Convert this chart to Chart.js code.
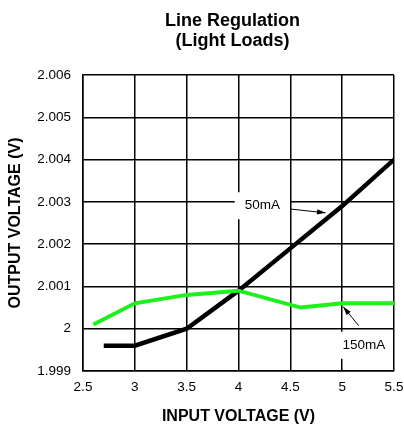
<!DOCTYPE html>
<html>
<head>
<meta charset="utf-8">
<script src="https://cdn.jsdelivr.net/npm/chart.js@4/dist/chart.umd.min.js"></script>
<style>
  html, body { margin: 0; padding: 0; background: #fff; }
  #wrap { width: 404px; height: 429px; }
</style>
</head>
<body>
<div id="wrap"><canvas id="lineChart" width="404" height="429"></canvas></div>
<script>
var xTicks = [2.5, 3, 3.5, 4, 4.5, 5, 5.5];
var yTicks = [1.999, 2, 2.001, 2.002, 2.003, 2.004, 2.005, 2.006];

var inputV50 = [2.7, 3, 3.5, 4, 4.5, 5, 5.5];
var outV50 = [1.9996, 1.9996, 2.0000, 2.0009, 2.0019, 2.0029, 2.0040];

var inputV150 = [2.6, 3, 3.5, 4, 4.6, 5, 5.5];
var outV150 = [2.0001, 2.0006, 2.0008, 2.0009, 2.0005, 2.0006, 2.0006];

var titleLines = ['Line Regulation', '(Light Loads)'];

var FONT = '"Liberation Sans", Arial, sans-serif';

function toPoints(xs, ys) {
    return xs.map(function (x, i) { return { x: x, y: ys[i] }; });
}

// callouts, in data units
var callouts = [
    { text: '50mA', x: 4.23, y: 2.00292, pad: 10, from: [4.5, 2.00283], to: [4.84, 2.00274] },
    { text: '150mA', x: 5.21, y: 1.99962, pad: 3, from: [5.16, 2.00007], to: [5.01, 2.00052] },
];

var extras = {
    id: 'extras',
    afterDraw: function (chart) {
        var ctx = chart.ctx;
        var xs = chart.scales.x, ys = chart.scales.y;
        var area = chart.chartArea;
        ctx.save();
        // title
        ctx.fillStyle = '#000';
        ctx.font = 'bold 18px ' + FONT;
        ctx.textAlign = 'center';
        ctx.textBaseline = 'alphabetic';
        var cx = (area.left + area.right) / 2 - 6;
        ctx.fillText(titleLines[0], cx, 26);
        ctx.fillText(titleLines[1], cx, 46);

        ctx.font = '13.5px ' + FONT;
        ctx.textBaseline = 'middle';
        callouts.forEach(function (c) {
            var px = xs.getPixelForValue(c.x), py = ys.getPixelForValue(c.y);
            var w = ctx.measureText(c.text).width;
            ctx.fillStyle = '#fff';
            ctx.fillRect(px - w / 2 - c.pad, py - 13, w + 2 * c.pad, 27);
            ctx.fillStyle = '#000';
            ctx.fillText(c.text, px, py);
            var x1 = xs.getPixelForValue(c.from[0]), y1 = ys.getPixelForValue(c.from[1]);
            var x2 = xs.getPixelForValue(c.to[0]), y2 = ys.getPixelForValue(c.to[1]);
            ctx.strokeStyle = '#000';
            ctx.lineWidth = 1;
            ctx.beginPath();
            ctx.moveTo(x1, y1);
            ctx.lineTo(x2, y2);
            ctx.stroke();
            var a = Math.atan2(y2 - y1, x2 - x1);
            ctx.beginPath();
            ctx.moveTo(x2, y2);
            ctx.lineTo(x2 - 9 * Math.cos(a - 0.3), y2 - 9 * Math.sin(a - 0.3));
            ctx.lineTo(x2 - 9 * Math.cos(a + 0.3), y2 - 9 * Math.sin(a + 0.3));
            ctx.closePath();
            ctx.fill();
        });
        ctx.restore();
    }
};

var ctx = document.getElementById('lineChart').getContext('2d');
var lineChart = new Chart(ctx, {
    type: 'line',
    data: {
        datasets: [{
            label: '150mA',
            data: toPoints(inputV150, outV150),
            borderColor: 'rgb(30,240,30)',
            borderWidth: 4,
            pointRadius: 0,
            fill: false,
            tension: 0,
        }, {
            label: '50mA',
            data: toPoints(inputV50, outV50),
            borderColor: '#000',
            borderWidth: 4.5,
            pointRadius: 0,
            fill: false,
            tension: 0,
        }],
    },
    options: {
        responsive: false,
        animation: false,
        layout: { padding: { top: 75, right: 10, left: 0, bottom: 0 } },
        plugins: {
            legend: { display: false },
            title: { display: false },
            tooltip: { enabled: false },
        },
        scales: {
            x: {
                type: 'linear',
                min: 2.5,
                max: 5.5,
                afterBuildTicks: function (s) { s.ticks = xTicks.map(function (v) { return { value: v }; }); },
                afterFit: function (s) { s.height = 58; s.paddingRight = 0; s.paddingLeft = 0; },
                grid: { color: '#000', lineWidth: 1.5, drawTicks: false },
                border: { color: '#000', width: 1.5 },
                ticks: {
                    color: '#000',
                    padding: 8,
                    maxRotation: 0,
                    font: { family: FONT, size: 13.5 },
                    callback: function (v) { return String(v); },
                },
                title: {
                    display: true,
                    text: 'INPUT VOLTAGE (V)',
                    color: '#000',
                    padding: { top: 4, bottom: 3 },
                    font: { family: FONT, size: 16, weight: 'bold' },
                },
            },
            y: {
                type: 'linear',
                min: 1.999,
                max: 2.006,
                afterBuildTicks: function (s) { s.ticks = yTicks.map(function (v) { return { value: v }; }); },
                afterFit: function (s) { s.width = 83; },
                grid: { color: '#000', lineWidth: 1.5, drawTicks: false },
                border: { color: '#000', width: 1.5 },
                ticks: {
                    color: '#000',
                    padding: 12,
                    font: { family: FONT, size: 13.5 },
                    callback: function (v) { return String(parseFloat(v.toFixed(3))); },
                },
                title: {
                    display: true,
                    text: 'OUTPUT VOLTAGE (V)',
                    color: '#000',
                    padding: { top: 6, bottom: 4 },
                    font: { family: FONT, size: 16, weight: 'bold' },
                },
            },
        },
    },
    plugins: [extras],
});
</script>
</body>
</html>
